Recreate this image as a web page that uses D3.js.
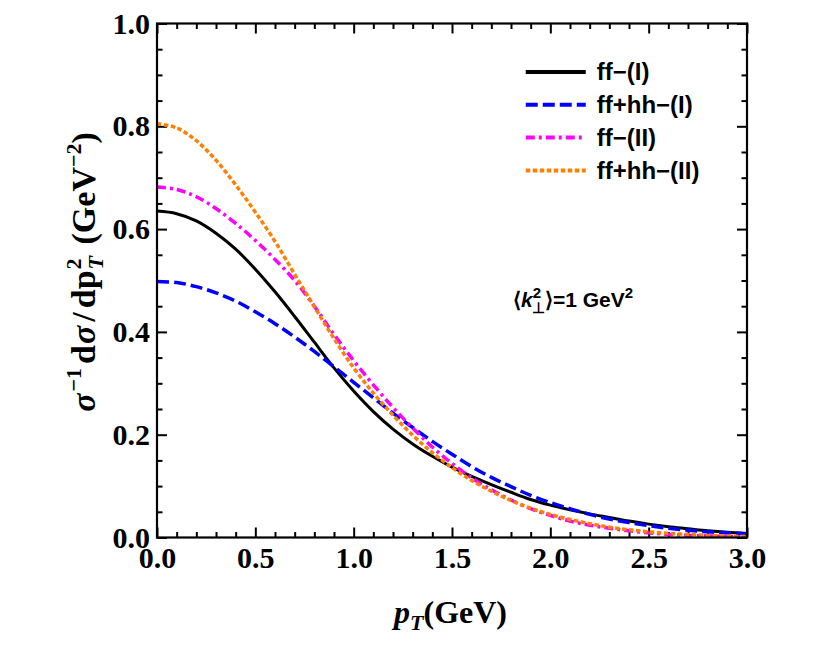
<!DOCTYPE html>
<html lang="en">
<head>
<meta charset="UTF-8">
<title>pT distribution</title>
<script src="https://cdn.jsdelivr.net/npm/d3@7"></script>
<style>
  body { margin: 0; background: #fff; }
  .tick text { font-family: "Liberation Serif", "Times New Roman", serif; font-weight: bold; font-size: 30px; fill: #000; }
  .tick line { stroke: #000; stroke-width: 2; }
  .domain { stroke: none; }
  .legend text, .note { font-family: "Liberation Sans", Arial, sans-serif; font-weight: bold; fill: #000; }
  .axis-title { font-family: "Liberation Serif", "Times New Roman", serif; font-weight: bold; fill: #000; }
</style>
</head>
<body>
<svg id="chart" width="830" height="664"></svg>
<script>
// p_T grid (GeV)
const pT = [0.0, 0.1, 0.2, 0.3, 0.4, 0.5, 0.6, 0.7, 0.8, 0.9, 1.0,
            1.1, 1.2, 1.3, 1.4, 1.5, 1.6, 1.7, 1.8, 1.9, 2.0,
            2.1, 2.2, 2.3, 2.4, 2.5, 2.6, 2.7, 2.8, 2.9, 3.0];

// sigma^-1 dsigma/dpT^2 (GeV^-2)
const ffI = [0.635, 0.630, 0.616, 0.592, 0.561, 0.522, 0.478, 0.430, 0.380, 0.330, 0.285,
             0.245, 0.211, 0.182, 0.158, 0.137, 0.119, 0.103, 0.088, 0.074, 0.063,
             0.054, 0.046, 0.039, 0.032, 0.026, 0.021, 0.017, 0.013, 0.010, 0.008];
const ffhhI = [0.498, 0.496, 0.488, 0.476, 0.460, 0.439, 0.416, 0.390, 0.362, 0.332, 0.302,
               0.272, 0.242, 0.214, 0.187, 0.162, 0.138, 0.117, 0.099, 0.082, 0.068,
               0.056, 0.045, 0.036, 0.029, 0.023, 0.018, 0.014, 0.011, 0.009, 0.007];
const ffII = [0.682, 0.677, 0.663, 0.640, 0.611, 0.578, 0.541, 0.500, 0.450, 0.395, 0.344,
              0.297, 0.253, 0.213, 0.176, 0.144, 0.116, 0.093, 0.073, 0.056, 0.043,
              0.032, 0.024, 0.018, 0.013, 0.009, 0.006, 0.004, 0.003, 0.002, 0.001];
const ffhhII = [0.805, 0.797, 0.772, 0.734, 0.686, 0.633, 0.576, 0.512, 0.449, 0.387, 0.330,
                0.281, 0.238, 0.199, 0.165, 0.136, 0.111, 0.090, 0.072, 0.057, 0.045,
                0.035, 0.027, 0.020, 0.015, 0.011, 0.008, 0.006, 0.004, 0.003, 0.002];

const seriesNames = ['ff\u2212(I)', 'ff+hh\u2212(I)', 'ff\u2212(II)', 'ff+hh\u2212(II)'];
const seriesValues = [ffI, ffhhI, ffII, ffhhII];

const xMajor = [0, 0.5, 1.0, 1.5, 2.0, 2.5, 3.0];
const yMajor = [0, 0.2, 0.4, 0.6, 0.8, 1.0];

// styles
const colors = ['#000000', '#0000ff', '#ff00ff', '#ff7f00'];
const dashes = [null, '12,5', '9,4,3,4', '4.5,2.5'];

const svg = d3.select('#chart');
const margin = { left: 157, right: 83, top: 23.5, bottom: 126.5 };
const W = 830 - margin.left - margin.right;
const H = 664 - margin.top - margin.bottom;

const g = svg.append('g').attr('transform', `translate(${margin.left},${margin.top})`);

const x = d3.scaleLinear().domain([0, 3]).range([0, W]);
const y = d3.scaleLinear().domain([0, 1]).range([H, 0]);

const xMinor = d3.range(0, 3.0001, 0.1).filter(v => Math.abs(v * 2 - Math.round(v * 2)) > 1e-6);
const yMinor = d3.range(0, 1.0001, 0.05).filter(v => Math.abs(v * 5 - Math.round(v * 5)) > 1e-6);

const fmt = d3.format('.1f');

// axes: ticks inward on all 4 sides
g.append('g').attr('transform', `translate(0,${H})`)
  .call(d3.axisBottom(x).tickValues(xMajor).tickSize(-10).tickPadding(9).tickFormat(fmt));
g.append('g').attr('transform', `translate(0,${H})`)
  .call(d3.axisBottom(x).tickValues(xMinor).tickSize(-5.5).tickFormat(''));
g.append('g')
  .call(d3.axisTop(x).tickValues(xMajor).tickSize(-10).tickFormat(''));
g.append('g')
  .call(d3.axisTop(x).tickValues(xMinor).tickSize(-5.5).tickFormat(''));

g.append('g')
  .call(d3.axisLeft(y).tickValues(yMajor).tickSize(-10).tickPadding(7).tickFormat(fmt));
g.append('g')
  .call(d3.axisLeft(y).tickValues(yMinor).tickSize(-5.5).tickFormat(''));
g.append('g').attr('transform', `translate(${W},0)`)
  .call(d3.axisRight(y).tickValues(yMajor).tickSize(-10).tickFormat(''));
g.append('g').attr('transform', `translate(${W},0)`)
  .call(d3.axisRight(y).tickValues(yMinor).tickSize(-5.5).tickFormat(''));

// clip for curves
svg.append('defs').append('clipPath').attr('id', 'clip')
  .append('rect').attr('width', W).attr('height', H);

const line = d3.line()
  .x(d => x(d[0]))
  .y(d => y(d[1]))
  .curve(d3.curveCatmullRom.alpha(0.5));

seriesValues.forEach((vals, i) => {
  g.append('path')
    .datum(pT.map((p, k) => [p, vals[k]]))
    .attr('clip-path', 'url(#clip)')
    .attr('d', line)
    .attr('fill', 'none')
    .attr('stroke', colors[i])
    .attr('stroke-width', i === 0 ? 3 : 3.5)
    .attr('stroke-dasharray', dashes[i]);
});

// frame
g.append('rect')
  .attr('width', W).attr('height', H)
  .attr('fill', 'none').attr('stroke', '#000').attr('stroke-width', 2.2);

// legend
const legend = g.append('g').attr('class', 'legend')
  .attr('transform', `translate(${x(1.875)},${y(0.9056)})`);
seriesNames.forEach((name, i) => {
  const row = legend.append('g').attr('transform', `translate(0,${i * 32.8})`);
  row.append('line')
    .attr('x1', 0).attr('x2', 60).attr('y1', 0).attr('y2', 0)
    .attr('stroke', colors[i]).attr('stroke-width', 4)
    .attr('stroke-dasharray', dashes[i]);
  row.append('text')
    .attr('x', 71).attr('y', 0).attr('dy', '0.35em')
    .style('font-size', '24px')
    .text(name);
});

// annotation <k_perp^2> = 1 GeV^2
const note = g.append('text').attr('class', 'note')
  .attr('x', x(1.81)).attr('y', y(0.448))
  .style('font-size', '21px');
note.append('tspan').text('\u27E8');
note.append('tspan').style('font-style', 'italic').text('k');
note.append('tspan').attr('dy', -9).style('font-size', '15px').text('2');
note.append('tspan').attr('dx', -9).attr('dy', 15).style('font-size', '15px').text('\u22A5');
note.append('tspan').attr('dy', -6).text('\u27E9=1 GeV');
note.append('tspan').attr('dy', -9).style('font-size', '15px').text('2');

// x axis title
const xt = svg.append('text').attr('class', 'axis-title')
  .style('font-size', '32px')
  .attr('y', 623);
xt.append('tspan').style('font-style', 'italic').text('p');
xt.append('tspan').attr('dy', 7).style('font-style', 'italic').style('font-size', '22px').text('T');
xt.append('tspan').attr('dy', -7).text('(GeV)');
const xtw = xt.node().getBBox().width;
xt.attr('x', margin.left + W / 2 - xtw / 2);

// y axis title (rotated), centred on screen afterwards
const yt = svg.append('text').attr('class', 'axis-title')
  .style('font-size', '34px')
  .attr('x', 0)
  .attr('transform', 'translate(95,0) rotate(-90)');
yt.append('tspan').style('font-style', 'italic').text('\u03C3');
yt.append('tspan').attr('dx', 2).attr('dy', -14).style('font-size', '22px').text('\u22121');
yt.append('tspan').attr('dx', 4).attr('dy', 14).text('d');
yt.append('tspan').attr('dx', 1).style('font-style', 'italic').text('\u03C3');
yt.append('tspan').attr('dx', 4).text('/');
yt.append('tspan').attr('dx', 4).text('dp');
yt.append('tspan').attr('dx', 1).attr('dy', -14).style('font-size', '22px').text('2');
yt.append('tspan').attr('dx', -11).attr('dy', 22).style('font-size', '22px').style('font-style', 'italic').text('T');
yt.append('tspan').attr('dx', 3).attr('dy', -8).text(' (GeV');
yt.append('tspan').attr('dy', -14).style('font-size', '22px').text('\u22122');
yt.append('tspan').attr('dy', 14).text(')');
const svgTop = svg.node().getBoundingClientRect().top;
const r = yt.node().getBoundingClientRect();
const midNow = (r.top + r.bottom) / 2 - svgTop;
yt.attr('transform', `translate(95,${272 - midNow}) rotate(-90)`);
</script>
</body>
</html>
